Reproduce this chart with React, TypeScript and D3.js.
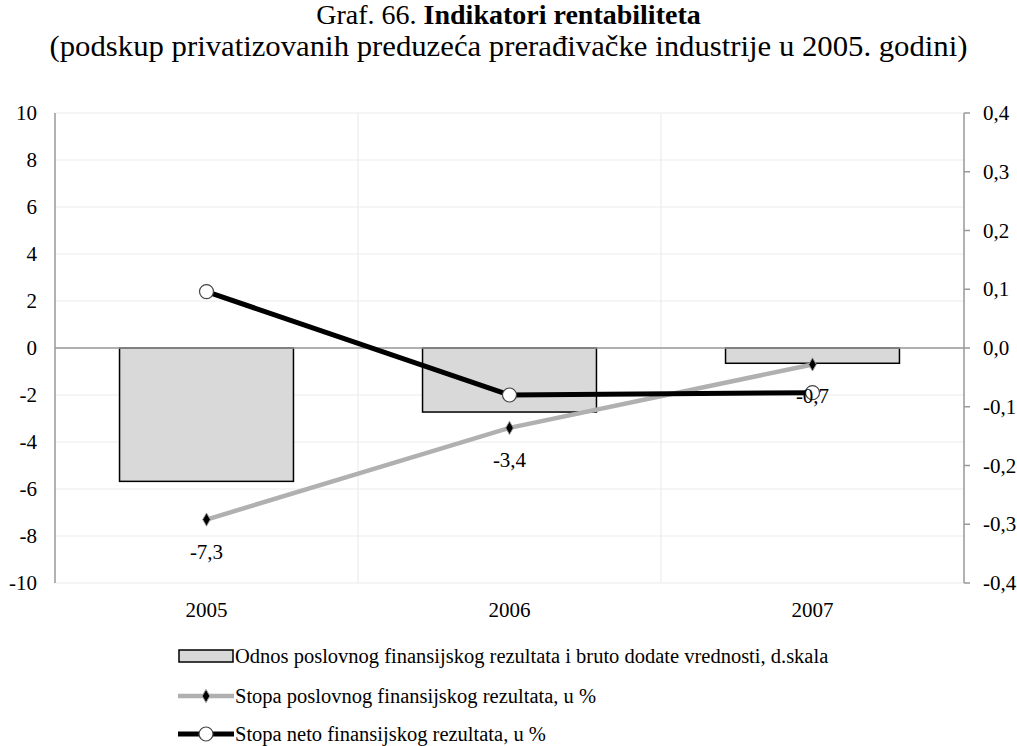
import React, { useEffect, useRef } from "react";
import * as d3 from "d3";

const years = ["2005", "2006", "2007"];
const ratioValues = [-0.227, -0.109, -0.026]; // right axis (d.skala)
const operatingRate = [-7.3, -3.4, -0.7];
const netRate = [2.4, -2.0, -1.9];
const leftTicks = [-10, -8, -6, -4, -2, 0, 2, 4, 6, 8, 10];
const rightTicks = [-0.4, -0.3, -0.2, -0.1, 0, 0.1, 0.2, 0.3, 0.4];
const legendLabels = [
  "Odnos poslovnog finansijskog rezultata i bruto dodate vrednosti, d.skala",
  "Stopa poslovnog finansijskog rezultata, u %",
  "Stopa neto finansijskog rezultata, u %",
];

const W = 1017;
const H = 746;
const FONT = "'Liberation Serif', 'Times New Roman', serif";
const fmt = (d: number) => d3.format(".1f")(d).replace("−", "-").replace(".", ",");

export default function App() {
  const ref = useRef<SVGSVGElement | null>(null);

  useEffect(() => {
    const svg = d3.select(ref.current);
    svg.selectAll("*").remove();

    const left = 55, right = 964, top = 113, bottom = 583;
    const x = d3.scaleBand<string>().domain(years).range([left, right]);
    const yL = d3.scaleLinear().domain([-10, 10]).range([bottom, top]);
    const yR = d3.scaleLinear().domain([-0.4, 0.4]).range([bottom, top]);
    const cx = (d: string) => (x(d) as number) + x.bandwidth() / 2;

    // title
    const t = svg.append("text").attr("x", W / 2).attr("y", 24).attr("text-anchor", "middle")
      .attr("font-size", 28).attr("fill", "#000");
    t.append("tspan").text("Graf. 66. ");
    t.append("tspan").attr("font-weight", "bold").text("Indikatori rentabiliteta");
    svg.append("text").attr("x", W / 2).attr("y", 56).attr("text-anchor", "middle")
      .attr("font-size", 29).attr("fill", "#000")
      .attr("textLength", 918).attr("lengthAdjust", "spacingAndGlyphs")
      .text("(podskup privatizovanih preduzeća prerađivačke industrije u 2005. godini)");

    // gridlines
    svg.append("g").selectAll("line").data(leftTicks).join("line")
      .attr("x1", left).attr("x2", right)
      .attr("y1", (d) => yL(d)).attr("y2", (d) => yL(d))
      .attr("stroke", "#ececec").attr("stroke-width", 1.2);
    svg.append("g").selectAll("line").data(years.slice(1)).join("line")
      .attr("x1", (d) => x(d) as number).attr("x2", (d) => x(d) as number)
      .attr("y1", top).attr("y2", bottom)
      .attr("stroke", "#ececec").attr("stroke-width", 1.2);

    // bars on the right scale
    svg.append("g").selectAll("rect").data(ratioValues).join("rect")
      .attr("x", (_, i) => cx(years[i]) - x.bandwidth() * 0.287)
      .attr("width", x.bandwidth() * 0.574)
      .attr("y", (d) => Math.min(yR(0), yR(d)))
      .attr("height", (d) => Math.abs(yR(d) - yR(0)))
      .attr("fill", "#d9d9d9").attr("stroke", "#000").attr("stroke-width", 1.5);

    // zero line
    svg.append("line").attr("x1", left).attr("x2", right).attr("y1", yL(0)).attr("y2", yL(0))
      .attr("stroke", "#999").attr("stroke-width", 1.5);

    // axes
    svg.append("line").attr("x1", left).attr("x2", left).attr("y1", top).attr("y2", bottom)
      .attr("stroke", "#999").attr("stroke-width", 1.5);
    svg.append("line").attr("x1", right).attr("x2", right).attr("y1", top).attr("y2", bottom)
      .attr("stroke", "#999").attr("stroke-width", 1.5);
    svg.append("g").selectAll("line").data(rightTicks).join("line")
      .attr("x1", right).attr("x2", right + 6)
      .attr("y1", (d) => yR(d)).attr("y2", (d) => yR(d))
      .attr("stroke", "#999").attr("stroke-width", 1.5);

    svg.append("g").selectAll("text").data(leftTicks).join("text")
      .attr("x", 37).attr("y", (d) => yL(d) + 7).attr("text-anchor", "end")
      .attr("font-size", 21).attr("fill", "#000")
      .text((d) => String(d));
    svg.append("g").selectAll("text").data(rightTicks).join("text")
      .attr("x", 983).attr("y", (d) => yR(d) + 7).attr("text-anchor", "start")
      .attr("font-size", 21).attr("fill", "#000")
      .text((d) => fmt(d));
    svg.append("g").selectAll("text").data(years).join("text")
      .attr("x", (d) => cx(d)).attr("y", 617).attr("text-anchor", "middle")
      .attr("font-size", 21).attr("fill", "#000")
      .text((d) => d);

    const line = d3.line<number>().x((_, i) => cx(years[i])).y((d) => yL(d));

    // gray line
    svg.append("path").datum(operatingRate).attr("d", line).attr("fill", "none")
      .attr("stroke", "#b0b0b0").attr("stroke-width", 4.5);
    const diamond = d3.symbol().type(d3.symbolDiamond).size(50);
    svg.append("g").selectAll("path").data(operatingRate).join("path")
      .attr("d", diamond)
      .attr("transform", (d, i) => `translate(${cx(years[i])},${yL(d)})`)
      .attr("fill", "#000").attr("stroke", "#999").attr("stroke-width", 1);

    // black line
    svg.append("path").datum(netRate).attr("d", line).attr("fill", "none")
      .attr("stroke", "#000").attr("stroke-width", 5);
    svg.append("g").selectAll("circle").data(netRate).join("circle")
      .attr("cx", (_, i) => cx(years[i])).attr("cy", (d) => yL(d)).attr("r", 7)
      .attr("fill", "#fff").attr("stroke", "#444").attr("stroke-width", 1.2);

    // data labels of the gray series
    svg.append("g").selectAll("text").data(operatingRate).join("text")
      .attr("x", (_, i) => cx(years[i]))
      .attr("y", (d) => yL(d) + 39)
      .attr("text-anchor", "middle")
      .attr("font-size", 21).attr("fill", "#000")
      .text((d) => fmt(d));

    // legend
    const lg = svg.append("g").attr("font-size", 20.5);
    const lx = 178, lw = 56;
    const ly = [656, 696, 734];
    lg.append("rect").attr("x", lx + 1).attr("y", ly[0] - 6).attr("width", lw - 2).attr("height", 12)
      .attr("fill", "#d9d9d9").attr("stroke", "#000").attr("stroke-width", 1.5);
    lg.append("line").attr("x1", lx).attr("x2", lx + lw).attr("y1", ly[1]).attr("y2", ly[1])
      .attr("stroke", "#b0b0b0").attr("stroke-width", 4.5);
    lg.append("path").attr("d", diamond).attr("transform", `translate(${lx + lw / 2},${ly[1]})`)
      .attr("fill", "#000").attr("stroke", "#999").attr("stroke-width", 1);
    lg.append("line").attr("x1", lx).attr("x2", lx + lw).attr("y1", ly[2]).attr("y2", ly[2])
      .attr("stroke", "#000").attr("stroke-width", 5);
    lg.append("circle").attr("cx", lx + lw / 2).attr("cy", ly[2]).attr("r", 7)
      .attr("fill", "#fff").attr("stroke", "#444").attr("stroke-width", 1.2);
    lg.selectAll("text").data(legendLabels).join("text")
      .attr("x", lx + lw + 1).attr("y", (_, i) => ly[i] + 7)
      .attr("fill", "#000").text((d) => d);
  }, []);

  return (
    <svg ref={ref} width={W} height={H}
      style={{ position: "absolute", left: 0, top: 0, background: "#fff", fontFamily: FONT }} />
  );
}
